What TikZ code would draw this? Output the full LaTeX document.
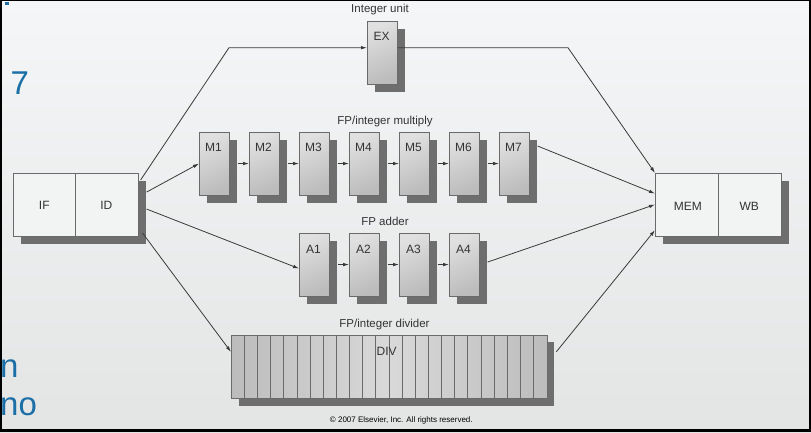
\documentclass[tikz,border=0pt]{standalone}
\usepackage{fontspec}
\setmainfont{Liberation Sans}
\usetikzlibrary{arrows.meta,calc,shadows}
\definecolor{bgtop}{HTML}{F4F6F7}
\definecolor{bgmid}{HTML}{EEF0F0}
\definecolor{bgbot}{HTML}{E3E5E5}
\definecolor{shd}{HTML}{6E6E6E}
\definecolor{edge}{HTML}{6A6A6A}
\definecolor{boxlight}{HTML}{E0E0E0}
\definecolor{boxdark}{HTML}{BCBCBC}
\definecolor{lnk}{HTML}{3A3A3A}
\definecolor{slideblue}{HTML}{1B6FA6}
\definecolor{pipe}{HTML}{F2F3F3}
\definecolor{txt}{HTML}{333333}
\tikzset{
  stage/.style={draw=edge, line width=0.6pt, top color=boxlight, bottom color=boxdark,
    shading angle=25, minimum width=30pt, minimum height=62.5pt, inner sep=0pt,
    anchor=north west, general shadow={fill=shd, shadow xshift=8pt, shadow yshift=-8pt}},
  pipebox/.style={draw=edge, line width=0.6pt, fill=pipe, minimum height=62.5pt,
    inner sep=0pt, anchor=north west, general shadow={fill=shd, shadow xshift=7.5pt, shadow yshift=-8pt}},
  divbox/.style={draw=edge, line width=0.6pt, left color=boxdark, right color=boxdark, middle color=boxlight!80!boxdark,
    minimum width=315.6pt, minimum height=63.3pt, inner sep=0pt, anchor=north west,
    general shadow={fill=shd, shadow xshift=7.5pt, shadow yshift=-7pt}},
  stripeline/.style={draw=edge, line width=0.5pt},
  lbl/.style={font=\fontsize{11.5}{12}\selectfont, text=txt, inner sep=0pt, anchor=base},
  boxtxt/.style={font=\fontsize{12}{12}\selectfont, text=txt, inner sep=0pt, anchor=base},
  link/.style={draw=lnk, line width=0.8pt, -{Latex[length=6pt,width=3.6pt]}},
  slidetxt/.style={font=\fontsize{33}{33}\selectfont, text=slideblue, inner sep=0pt, anchor=base west}
}
\begin{document}
\begin{tikzpicture}[x=1pt,y=-1pt]
\useasboundingbox (0,0) rectangle (811,432);
\clip (0,0) rectangle (811,432);
% background
\shade[top color=bgtop, middle color=bgmid, bottom color=bgbot] (0,0) rectangle (811,432);
% slide remnants
\fill[slideblue] (5,2) rectangle (9,5);
\node[slidetxt] (s7) at (10.5,94) {7};
\node[slidetxt] (sn) at (0,377) {n};
\node[slidetxt] (sno) at (0,415) {no};

% IF / ID
\node[pipebox, minimum width=62pt] (IF) at (13,173) {};
\node[pipebox, minimum width=63pt] (ID) at (75,173) {};
\node[boxtxt] (IFt) at (44.3,209.3) {IF};
\node[boxtxt] (IDt) at (106.3,209.3) {ID};

% MEM / WB
\node[pipebox, minimum width=63pt] (MEM) at (655,173) {};
\node[pipebox, minimum width=63pt] (WB) at (718,173) {};
\node[boxtxt] (MEMt) at (687.8,210) {MEM};
\node[boxtxt] (WBt) at (749.2,210) {WB};

% Integer unit
\node[lbl] (lint) at (380,12.5) {Integer unit};
\node[stage] (EX) at (367,21) {};
\node[boxtxt] (EXt) at (381.5,40.7) {EX};

% FP/integer multiply
\node[lbl] (lmul) at (385,124) {FP/integer multiply};
\foreach \i in {1,...,7}{
  \node[stage] (M\i) at ({199+50*(\i-1)},132) {};
  \node[boxtxt] (M\i t) at ({213.5+50*(\i-1)},151.7) {M\i};
}

% FP adder
\node[lbl] (ladd) at (385,225.7) {FP adder};
\foreach \i in {1,...,4}{
  \node[stage] (A\i) at ({299+50*(\i-1)},233) {};
  \node[boxtxt] (A\i t) at ({313.5+50*(\i-1)},253.3) {A\i};
}

% FP/integer divider
\node[lbl] (ldiv) at (384.5,327.3) {FP/integer divider};
\node[divbox] (DIV) at (231,335) {};
\foreach \k in {1,...,23}{
  \draw[stripeline] ($(DIV.north west)+({13.15*\k},0)$) -- ($(DIV.south west)+({13.15*\k},0)$);
}
\node[boxtxt] (DIVt) at (386.7,355) {DIV};

% copyright
\node[font=\fontsize{8}{8}\selectfont, text=black, inner sep=0pt, anchor=base] (copy) at (401.3,422.3) {\textcopyright\ 2007 Elsevier, Inc. All rights reserved.};

% connectors
\coordinate (b1) at (229,47.7);
\coordinate (b2) at (568,47.7);
\draw[link] ($(ID.north east)+(2,7)$) -- (b1) -- (b1 -| EX.west);
\draw[link] (b1 -| EX.east) -- (b2) -- (MEM.north west);
\draw[link] ($(ID.east)+(8,-12.5)$) -- (M1.west);
\foreach \i/\j in {1/2,2/3,3/4,4/5,5/6,6/7}{
  \draw[link] ($(M\i.east)+(8,0)$) -- (M\j.west);
}
\draw[link] ($(M7.north east)+(8,14)$) -- ($(MEM.west)+(0,-11)$);
\draw[link] ($(ID.east)+(8,4.5)$) -- ($(A1.west)+(0,4)$);
\foreach \i/\j in {1/2,2/3,3/4}{
  \draw[link] ($(A\i.east)+(8,0)$) -- (A\j.west);
}
\draw[link] ($(A4.east)+(8,-2.5)$) -- (MEM.west);
\draw[link] ($(ID.south east)+(4,-3)$) -- ($(DIV.west)+(0,-15)$);
\draw[link] ($(DIV.east)+(9,-15)$) -- ($(MEM.south west)+(0,-6)$);

% frame
\fill[black] (0,0) rectangle (1.5,432);
\fill[black] (0,0) rectangle (811,1.2);
\fill[black] (0,429.3) rectangle (811,432);
\fill[black] (809.3,0) rectangle (811,432);
\end{tikzpicture}
\end{document}
